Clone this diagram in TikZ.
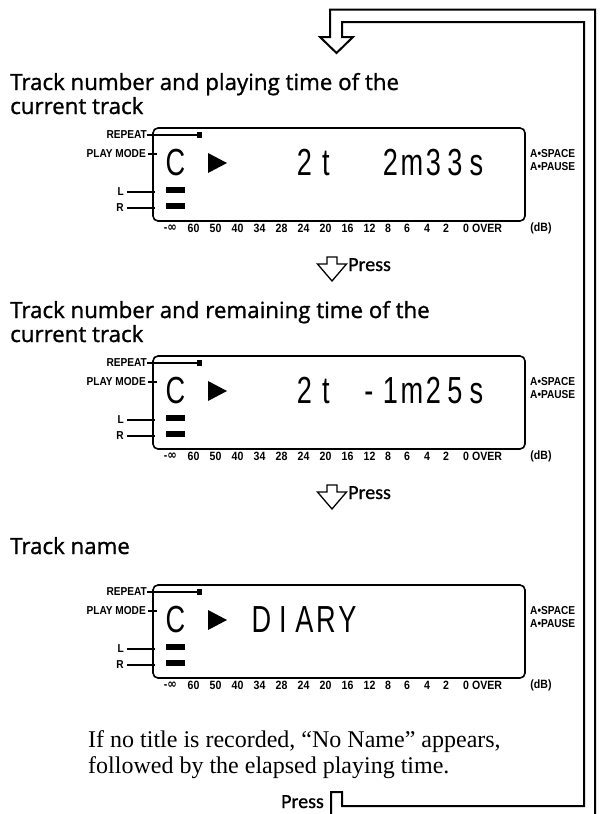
\documentclass[tikz,border=0pt]{standalone}
\usepackage{fontspec}
\setmainfont{Liberation Serif}
\newfontfamily\headfont[FakeBold=1.2]{Open Sans}
\newfontfamily\pressfont[FakeBold=1]{Carlito}
\newfontfamily\lcdfont{Liberation Sans}
\newfontfamily\infont{DejaVu Sans}
\usepackage{graphicx}
\newcommand\lcdch[1]{\scalebox{0.72}[1]{#1}}
\newcommand\lb[1]{\scalebox{0.88}[1]{#1}}
\tikzset{
  head/.style={anchor=base west, inner sep=0, font=\headfont\fontsize{22.3}{24}\selectfont},
  body/.style={anchor=base west, inner sep=0, font=\fontsize{24}{26}\selectfont},
  presslab/.style={inner sep=0, font=\pressfont\fontsize{20}{20}\selectfont},
  lab/.style={inner sep=0, font=\lcdfont\bfseries\fontsize{11.5}{11.5}\selectfont},
  scalelab/.style={inner sep=0, font=\lcdfont\bfseries\fontsize{12}{12}\selectfont},
  lcd/.style={inner sep=0, anchor=base, font=\lcdfont\fontsize{37.7}{38}\selectfont},
  lcdbox/.style={draw, rounded corners=5pt, line width=1.6pt, inner sep=0,
    minimum width=372pt, minimum height=93pt},
  leader/.style={line width=2.5pt},
  pipe/.style={line width=2pt, line join=miter},
  pressarrow/.style={line width=1.3pt, line join=miter}
}
\newcommand\lcdpanel[3]{%
\begin{scope}[yshift=-#1pt]
  \node[lcdbox] (#2box) at (339,174.5) {};
  \node[lab, anchor=east] (#2rep) at (147,135) {\lb{REPEAT}};
  \coordinate (#2repend) at (200,135);
  \draw[line width=2pt] (#2rep.east) -- (#2repend);
  \fill (197,132.3) rectangle (201.5,137.7);
  \node[lab, anchor=east] (#2pm) at (146,154) {\lb{PLAY MODE}};
  \coordinate (#2pmend) at (157,154);
  \draw[leader] ([xshift=2pt]#2pm.east) -- (#2pmend);
  \node[lab, anchor=east] (#2L) at (124,192) {\lb{L}};
  \coordinate (#2Lend) at (155,192);
  \draw[leader] ([xshift=3pt]#2L.east) -- (#2Lend);
  \node[lab, anchor=east] (#2R) at (124,208) {\lb{R}};
  \coordinate (#2Rend) at (155,208);
  \draw[leader] ([xshift=3pt]#2R.east) -- (#2Rend);
  \fill (166,187) rectangle (185,193);
  \fill (166,203) rectangle (185,209);
  \fill (208,153) -- (208,173) -- (227,163) -- cycle;
  \node[lab, anchor=west] (#2asp) at (530,154) {\lb{A•SPACE}};
  \node[lab, anchor=west] (#2apa) at (530,166.5) {\lb{A•PAUSE}};
  \node[lcd] (#2cC) at (175.5,175) {\lcdch{C}};
  \foreach \k/\c in {#3}
    \node[lcd] (#2c\k) at (175.5+21.5*\k,175) {\lcdch{\c}};
  \node[scalelab] (#2inf) at (170.5,228.5) {\lb{-{\infont\fontsize{13}{13}\selectfont ∞}}};
  \foreach \x/\t [count=\i] in {193.5/60,215.5/50,237.5/40,259.5/34,281.5/28,303.5/24,325.5/20,347.5/16,369.5/12,388/8,407/6,427/4,446/2,466/0,487/OVER,541/(dB)}
    \node[scalelab] (#2s\i) at (\x,228.5) {\lb{\t}};
\end{scope}}
\begin{document}
\begin{tikzpicture}[x=1pt,y=-1pt]
\useasboundingbox (0,0) rectangle (602,814);
\fill[white] (0,0) rectangle (602,814);
% loop
\draw[pipe] (331,814) -- (331,792) -- (342,792) -- (342,806) -- (584,806) -- (584,22)
  -- (342,22) -- (342,37) -- (353,37) -- (336.5,53) -- (320,37) -- (330,37)
  -- (330,9.5) -- (595,9.5) -- (595,814);
% headings
\node[head] (h1a) at (10,90) {Track number and playing time of the};
\node[head] (h1b) at (10,114) {current track};
\node[head] (h2a) at (10,318) {Track number and remaining time of the};
\node[head] (h2b) at (10,342) {current track};
\node[head] (h3) at (10,554) {Track name};
% displays
\lcdpanel{0}{d1}{6/2,7/t,10/2,11/m,12/3,13/3,14/s}
\lcdpanel{228}{d2}{6/2,7/t,9/-,10/1,11/m,12/2,13/5,14/s}
\lcdpanel{457}{d3}{4/D,5/I,6/A,7/R,8/Y}
% press arrows
\foreach \dy/\n in {0/p1,228/p2}{
  \draw[pressarrow] (327,257+\dy) -- (337,257+\dy) -- (337,264+\dy) -- (346.5,264+\dy)
    -- (332,281+\dy) -- (317.5,264+\dy) -- (327,264+\dy) -- cycle;
  \node[presslab, anchor=base west] (\n) at (348,271+\dy) {Press};
}
% body text
\node[body] (t1) at (88,747) {If no title is recorded, “No Name” appears,};
\node[body] (t2) at (88,773) {followed by the elapsed playing time.};
\node[presslab, anchor=base east] (p3) at (324,808) {Press};
\end{tikzpicture}
\end{document}
